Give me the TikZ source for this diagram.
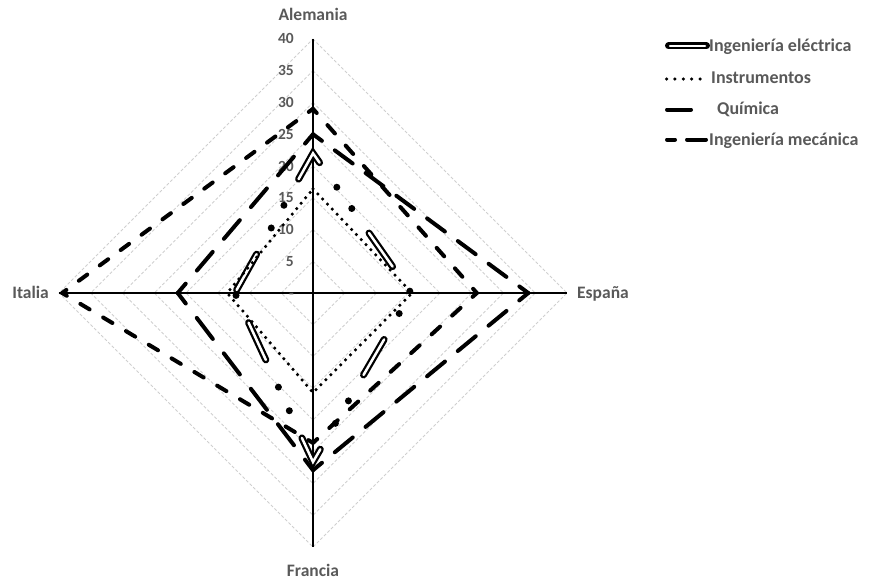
\documentclass[tikz,border=0pt]{standalone}
\usepackage{fontspec}
\setmainfont{Carlito}
\usetikzlibrary{calc}
\definecolor{txt}{HTML}{595959}
\definecolor{gridc}{HTML}{CFCFCF}
\newcommand\fitedge[5]{%
  \pgfpointdiff{\pgfpointanchor{#1}{center}}{\pgfpointanchor{#2}{center}}%
  \pgfgetlastxy{\fdx}{\fdy}%
  \pgfmathsetmacro\fL{veclen(\fdx,\fdy)}%
  \pgfmathsetmacro\fN{max(1,round(\fL/#3))}%
  \pgfmathsetmacro\fP{\fL/\fN}%
  \pgfmathsetmacro\fon{#4*\fP/#3-4}%
  \pgfmathsetmacro\foff{\fP-\fon}%
  \pgfmathsetmacro\fph{\fon/2}%
  \draw[#5, dash pattern=on \fon pt off \foff pt, dash phase=\fph pt] (#1) -- (#2);
}
\tikzset{
  gridline/.style={draw=gridc, line width=0.9pt, dash pattern=on 3pt off 2pt},
  axisline/.style={draw=black, line width=1.2pt},
  catlabel/.style={text=txt, inner sep=0pt, font=\bfseries\fontsize{17.5}{20}\selectfont},
  numlabel/.style={text=txt, inner sep=0pt, anchor=base east, font=\bfseries\fontsize{15.5}{18}\selectfont},
  leglabel/.style={text=txt, inner sep=0pt, anchor=base west, font=\bfseries\fontsize{18}{21}\selectfont},
  mecline/.style={line width=4pt, line cap=round, line join=round},
  quiline/.style={line width=4pt, line cap=round, line join=round},
  insline/.style={line width=3.5pt, line cap=round, line join=round, dash pattern=on 0pt off 7pt},
  eleouter/.style={line width=7pt, line cap=round, line join=miter,
     dash pattern=on 41pt off 30pt on 0pt off 26pt on 0pt off 30pt, dash phase=123.5pt},
  eleinner/.style={draw=white, line width=2.5pt, line cap=round, line join=miter,
     dash pattern=on 41pt off 86pt, dash phase=123.5pt},
  legele/.style={line width=7pt, line cap=round},
  legeleinner/.style={draw=white, line width=2.5pt, line cap=round},
  legins/.style={line width=3.5pt, line cap=round, dash pattern=on 0pt off 8.4pt},
  legdash/.style={line width=4pt, line cap=round},
}
\begin{document}
\begin{tikzpicture}[x=1pt,y=-1pt]
\useasboundingbox (0,0) rectangle (872,586);
\def\s{6.35}
% grid
\foreach \v in {5,10,...,40}{
  \draw[gridline] (313,{293-\s*\v}) -- ({313+\s*\v},293) -- (313,{293+\s*\v}) -- ({313-\s*\v},293) -- cycle;
}
% axes
\coordinate (aT) at (313,39);
\coordinate (aR) at (567,293);
\coordinate (aB) at (313,547);
\coordinate (aL) at (59,293);
\draw[axisline] (aL) -- (aR);
\draw[axisline] (aT) -- (aB);
% axis numbers
\foreach \v in {5,10,...,40}{
  \node[numlabel] (n\v) at (294,{293-\s*\v+5}) {\v};
}
\node[numlabel] (n0) at (294,298) {-};
% category labels
\node[catlabel, anchor=base] (alemania) at (313,20.7) {Alemania};
\node[catlabel, anchor=base west] (espana) at (577,298.5) {España};
\node[catlabel, anchor=base] (francia) at (313,576) {Francia};
\node[catlabel, anchor=base east] (italia) at (49,298.5) {Italia};
% series points
% Ingenieria electrica
\coordinate (eT) at (313,{293-\s*22});
\coordinate (eR) at ({313+\s*15.45},293);
\coordinate (eB) at (313,{293+\s*26.6});
\coordinate (eL) at ({313-\s*12.3},293);
% Instrumentos
\coordinate (iT) at (313,{293-\s*16.4});
\coordinate (iR) at ({313+\s*15.6},293);
\coordinate (iB) at (313,{293+\s*15.7});
\coordinate (iL) at ({313-\s*13.5},293);
% Quimica
\coordinate (qT) at (313,{293-\s*25});
\coordinate (qR) at ({313+\s*33.9},293);
\coordinate (qB) at (313,{293+\s*27.9});
\coordinate (qL) at ({313-\s*21.3},293);
% Ingenieria mecanica
\coordinate (mT) at (313,{293-\s*29});
\coordinate (mR) at ({313+\s*25.8},293);
\coordinate (mB) at (313,{293+\s*23.6});
\coordinate (mL) at ({313-\s*39.5},293);
% draw series
\draw[eleouter] (eL) -- (eT) -- (eR) -- (eB) -- cycle;
\draw[eleinner] (eL) -- (eT) -- (eR) -- (eB) -- cycle;
\draw[insline] (iT) -- (iR) -- (iB) -- (iL) -- cycle;
\fitedge{qT}{qR}{41}{28}{quiline}
\fitedge{qR}{qB}{41}{28}{quiline}
\fitedge{qB}{qL}{41}{28}{quiline}
\fitedge{qL}{qT}{41}{28}{quiline}
\fitedge{mT}{mR}{27}{15}{mecline}
\fitedge{mR}{mB}{27}{15}{mecline}
\fitedge{mB}{mL}{27}{15}{mecline}
\fitedge{mL}{mT}{27}{15}{mecline}
% legend
\coordinate (l1a) at (668.5,46);
\coordinate (l1b) at (706.5,46);
\coordinate (l1c) at (670,46);
\coordinate (l1d) at (705,46);
\draw[legele] (l1a) -- (l1b);
\draw[legeleinner] (l1c) -- (l1d);
\node[leglabel] (leg1) at (709,51.7) {Ingeniería eléctrica};
\coordinate (l2a) at (666.5,79);
\coordinate (l2b) at (708,79);
\draw[legins] (l2a) -- (l2b);
\node[leglabel] (leg2) at (711,83.3) {Instrumentos};
\coordinate (l3a) at (667,109.5);
\coordinate (l3b) at (691,109.5);
\draw[legdash] (l3a) -- (l3b);
\node[leglabel] (leg3) at (717,114) {Química};
\coordinate (l4a) at (667,139.5);
\coordinate (l4b) at (675,139.5);
\coordinate (l4c) at (687,139.5);
\coordinate (l4d) at (706,139.5);
\draw[legdash] (l4a) -- (l4b);
\draw[legdash] (l4c) -- (l4d);
\node[leglabel] (leg4) at (709,145) {Ingeniería mecánica};
\end{tikzpicture}
\end{document}
